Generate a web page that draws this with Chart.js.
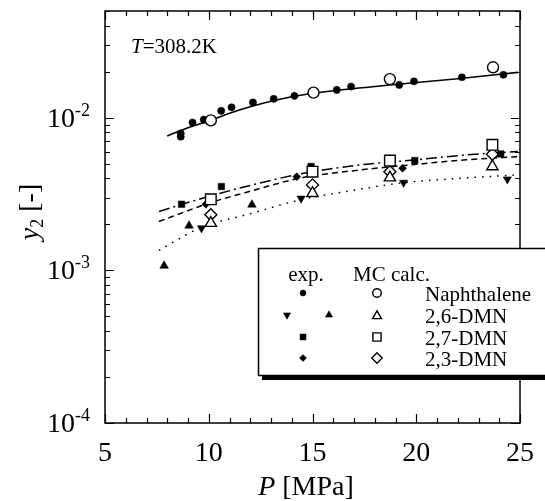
<!DOCTYPE html>
<html>
<head>
<meta charset="utf-8">
<script src="https://cdn.jsdelivr.net/npm/chart.js@4.4.1/dist/chart.umd.min.js"></script>
<style>
  html, body { margin: 0; padding: 0; background: #fff; }
</style>
</head>
<body>
<canvas id="chart" width="545" height="501"></canvas>
<script>
// ---- data (P in MPa, y2 mole fraction) ----
const naphExpP = [8.65, 8.65, 9.22, 9.76, 10.6, 11.1, 12.13, 13.13, 14.13, 16.17, 16.86, 19.18, 19.89, 22.2, 24.2];
const naphExpY = [7.9e-3, 7.5e-3, 9.3e-3, 9.7e-3, 1.11e-2, 1.17e-2, 1.26e-2, 1.33e-2, 1.39e-2, 1.52e-2, 1.60e-2, 1.64e-2, 1.73e-2, 1.84e-2, 1.91e-2];
const naphMcP = [10.1, 15.05, 18.73, 23.7];
const naphMcY = [9.6e-3, 1.46e-2, 1.79e-2, 2.14e-2];

const dmn26DownP = [9.65, 14.45, 19.39, 24.39];
const dmn26DownY = [1.89e-3, 2.96e-3, 3.76e-3, 3.95e-3];
const dmn26UpP = [7.85, 9.05, 12.08];
const dmn26UpY = [1.07e-3, 1.96e-3, 2.69e-3];
const dmn27ExpP = [8.69, 10.61, 14.93, 19.93, 24.07];
const dmn27ExpY = [2.71e-3, 3.54e-3, 4.79e-3, 5.24e-3, 5.79e-3];
const dmn23ExpP = [9.86, 14.24, 19.34];
const dmn23ExpY = [2.71e-3, 4.11e-3, 4.67e-3];

const mcP = [10.1, 15.0, 18.73, 23.67];
const dmn26McY = [2.04e-3, 3.2e-3, 4.05e-3, 4.79e-3];
const dmn27McY = [2.92e-3, 4.43e-3, 5.24e-3, 6.64e-3];
const dmn23McY = [2.31e-3, 3.63e-3, 4.43e-3, 5.77e-3];

// fitted curves
const naphFitP = [8, 9, 10, 11, 12, 14, 16, 19, 22, 24.9];
const naphFitY = [7.6e-3, 8.6e-3, 9.5e-3, 1.07e-2, 1.18e-2, 1.37e-2, 1.5e-2, 1.65e-2, 1.8e-2, 1.98e-2];
const fitP = [7.6, 10, 12, 14.4, 17, 20, 22.4, 24.9];
const dmn27FitY = [2.43e-3, 3.05e-3, 3.6e-3, 4.28e-3, 4.85e-3, 5.3e-3, 5.7e-3, 6.0e-3];
const dmn23FitY = [2.09e-3, 2.75e-3, 3.3e-3, 4.02e-3, 4.5e-3, 4.95e-3, 5.3e-3, 5.55e-3];
const dmn26FitP = [7.6, 9.6, 12, 14.4, 17, 19.2, 22, 24.9];
const dmn26FitY = [1.35e-3, 1.9e-3, 2.35e-3, 2.89e-3, 3.35e-3, 3.72e-3, 4.0e-3, 4.22e-3];

// axis ticks
const xMajor = [5, 10, 15, 20, 25];
const xLabels = ["5", "10", "15", "20", "25"];
const yMajor = [1e-4, 1e-3, 1e-2];
const yExps = ["-4", "-3", "-2"];

const pts = (xs, ys) => xs.map((x, i) => ({ x: x, y: ys[i] }));
const SERIF = '"Liberation Serif", "Times New Roman", serif';

function marker(xs, ys, style, r, open, rot, order) {
  return {
    data: pts(xs, ys),
    pointStyle: style,
    pointRadius: r,
    pointRotation: rot || 0,
    pointBackgroundColor: open ? "#fff" : "#000",
    pointBorderColor: "#000",
    pointBorderWidth: open ? 1.4 : 0.5,
    showLine: false,
    order: order
  };
}
function curve(xs, ys, dash) {
  return {
    data: pts(xs, ys),
    showLine: true,
    pointRadius: 0,
    borderColor: "#000",
    borderWidth: dash.length ? 1.5 : 1.6,
    borderDash: dash,
    cubicInterpolationMode: "monotone",
    order: 3
  };
}

const datasets = [
  marker(naphMcP, naphMcY, "circle", 5.5, true, 0, 0),
  marker(mcP, dmn26McY, "triangle", 6.5, true, 0, 0),
  marker(mcP, dmn27McY, "rect", 7.5, true, 0, 0),
  marker(mcP, dmn23McY, "rectRot", 6, true, 0, 0),
  marker(naphExpP, naphExpY, "circle", 3.6, false, 0, 1),
  marker(dmn26DownP, dmn26DownY, "triangle", 4.8, false, 180, 1),
  marker(dmn26UpP, dmn26UpY, "triangle", 5, false, 0, 1),
  marker(dmn27ExpP, dmn27ExpY, "rect", 4.6, false, 0, 1),
  marker(dmn23ExpP, dmn23ExpY, "rectRot", 4, false, 0, 1),
  curve(naphFitP, naphFitY, []),
  curve(fitP, dmn27FitY, [11, 4, 2, 4]),
  curve(fitP, dmn23FitY, [6, 4]),
  curve(dmn26FitP, dmn26FitY, [1.6, 6])
];

const axesPlugin = {
  id: "axesPlugin",
  beforeDatasetsDraw(chart) {
    const { ctx, chartArea: a, scales: { x, y } } = chart;
    ctx.save();
    ctx.strokeStyle = "#000";
    ctx.lineWidth = 1.5;
    ctx.strokeRect(a.left, a.top, a.right - a.left, a.bottom - a.top);
    ctx.lineWidth = 1.2;
    ctx.beginPath();
    // x ticks, every 1 MPa, inward on bottom and top
    for (let p = 5; p <= 25; p++) {
      const px = Math.round(x.getPixelForValue(p)) + 0.5;
      const len = p % 5 === 0 ? 9 : 5;
      ctx.moveTo(px, a.bottom); ctx.lineTo(px, a.bottom - len);
      ctx.moveTo(px, a.top); ctx.lineTo(px, a.top + len);
    }
    // y ticks, log decades with minors
    for (let d = 1e-4; d < 0.1; d *= 10) {
      for (let m = 1; m <= 9; m++) {
        const v = d * m;
        if (v > 5.01e-2) break;
        const py = Math.round(y.getPixelForValue(v)) + 0.5;
        const len = m === 1 ? 9 : 5;
        ctx.moveTo(a.left, py); ctx.lineTo(a.left + len, py);
        ctx.moveTo(a.right, py); ctx.lineTo(a.right - len, py);
      }
    }
    ctx.stroke();

    // tick labels
    ctx.fillStyle = "#000";
    ctx.font = "28px " + SERIF;
    ctx.textAlign = "center";
    ctx.textBaseline = "alphabetic";
    xMajor.forEach((p, i) => ctx.fillText(xLabels[i], x.getPixelForValue(p), 461));
    yMajor.forEach((v, i) => {
      const py = y.getPixelForValue(v);
      ctx.font = "18px " + SERIF;
      const sw = ctx.measureText(yExps[i]).width;
      ctx.textAlign = "right";
      ctx.fillText(yExps[i], 90, py - 2);
      ctx.font = "28px " + SERIF;
      ctx.fillText("10", 90 - sw, py + 9);
    });

    // axis titles
    ctx.textAlign = "left";
    ctx.font = "italic 28px " + SERIF;
    const wP = ctx.measureText("P").width;
    ctx.font = "28px " + SERIF;
    const wRest = ctx.measureText(" [MPa]").width;
    let sx = 306 - (wP + wRest) / 2;
    ctx.font = "italic 28px " + SERIF;
    ctx.fillText("P", sx, 495);
    ctx.font = "28px " + SERIF;
    ctx.fillText(" [MPa]", sx + wP, 495);

    ctx.save();
    ctx.translate(38, 212);
    ctx.rotate(-Math.PI / 2);
    ctx.font = "italic 28px " + SERIF;
    const wy = ctx.measureText("y").width;
    ctx.font = "18px " + SERIF;
    const w2 = ctx.measureText("2").width;
    ctx.font = "28px " + SERIF;
    const wb = ctx.measureText(" [-]").width;
    let tx = -(wy + w2 + wb) / 2;
    ctx.font = "italic 28px " + SERIF;
    ctx.fillText("y", tx, 0);
    ctx.font = "18px " + SERIF;
    ctx.fillText("2", tx + wy, 5);
    ctx.font = "28px " + SERIF;
    ctx.fillText(" [-]", tx + wy + w2, 0);
    ctx.restore();

    // temperature note
    ctx.font = "italic 21px " + SERIF;
    ctx.fillText("T", 131, 53);
    const wT = ctx.measureText("T").width;
    ctx.font = "21px " + SERIF;
    ctx.fillText("=308.2K", 131 + wT, 53);
    ctx.restore();
  },
  afterDraw(chart) {
    const { ctx } = chart;
    const dp = Chart.helpers.drawPoint;
    ctx.save();
    // legend box with drop shadow
    ctx.fillStyle = "#000";
    ctx.fillRect(262, 376, 300, 4);
    ctx.fillStyle = "#fff";
    ctx.fillRect(258, 248, 300, 128);
    ctx.strokeStyle = "#000";
    ctx.lineWidth = 1.5;
    ctx.strokeRect(258.5, 248.5, 300, 127);

    ctx.fillStyle = "#000";
    ctx.font = "21px " + SERIF;
    ctx.textBaseline = "alphabetic";
    ctx.textAlign = "center";
    ctx.fillText("exp.", 306, 281);
    ctx.textAlign = "left";
    ctx.fillText("MC calc.", 353, 281);
    const names = ["Naphthalene", "2,6-DMN", "2,7-DMN", "2,3-DMN"];
    const rows = [293, 315, 337, 358];
    names.forEach((n, i) => ctx.fillText(n, 425, rows[i] + 8));

    const filled = { pointStyle: "circle", radius: 3, borderWidth: 0.5, rotation: 0 };
    ctx.fillStyle = "#000";
    ctx.strokeStyle = "#000";
    ctx.lineWidth = 0.5;
    dp(ctx, { ...filled, radius: 3 }, 303, rows[0]);
    dp(ctx, { ...filled, pointStyle: "triangle", radius: 4.2, rotation: 180 }, 287, rows[1]);
    dp(ctx, { ...filled, pointStyle: "triangle", radius: 4.2 }, 329, rows[1]);
    dp(ctx, { ...filled, pointStyle: "rect", radius: 4.2 }, 303, rows[2]);
    dp(ctx, { ...filled, pointStyle: "rectRot", radius: 3.5 }, 303, rows[3]);

    ctx.fillStyle = "#fff";
    ctx.lineWidth = 1.4;
    const open = { borderWidth: 1.4, rotation: 0 };
    dp(ctx, { ...open, pointStyle: "circle", radius: 4.3 }, 377, rows[0]);
    dp(ctx, { ...open, pointStyle: "triangle", radius: 5.2 }, 377, rows[1] + 1);
    dp(ctx, { ...open, pointStyle: "rect", radius: 5.8 }, 377, rows[2]);
    dp(ctx, { ...open, pointStyle: "rectRot", radius: 5.2 }, 377, rows[3]);
    ctx.restore();
  }
};

new Chart(document.getElementById("chart").getContext("2d"), {
  type: "scatter",
  data: { datasets: datasets },
  options: {
    responsive: false,
    animation: false,
    layout: { padding: { left: 105, right: 25, top: 11, bottom: 78 } },
    plugins: { legend: { display: false }, tooltip: { enabled: false } },
    scales: {
      x: { type: "linear", min: 5, max: 25, display: false },
      y: { type: "logarithmic", min: 1e-4, max: 5e-2, display: false }
    }
  },
  plugins: [axesPlugin]
});
</script>
</body>
</html>
